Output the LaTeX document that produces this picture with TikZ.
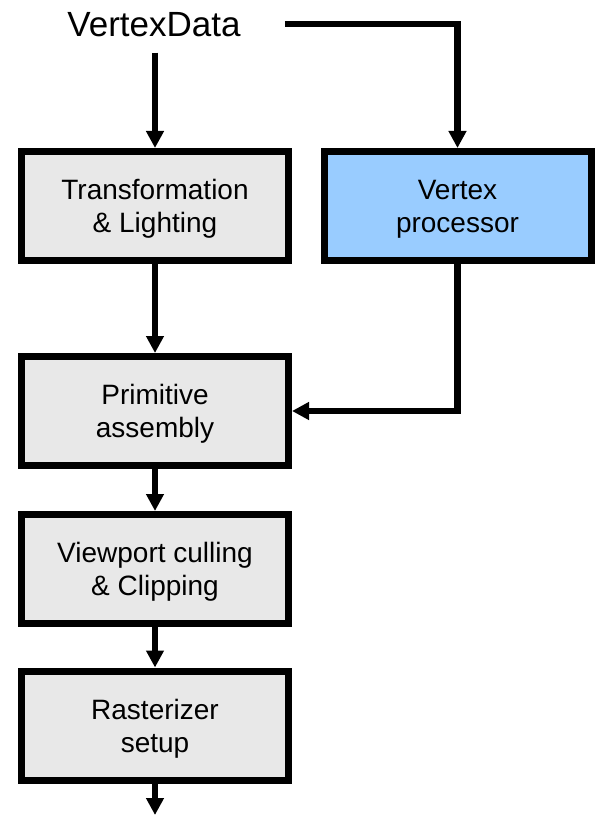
\documentclass[tikz,border=0pt]{standalone}
\usepackage{fontspec}
\setmainfont{Liberation Sans}
\usetikzlibrary{arrows.meta}
\definecolor{boxgray}{HTML}{E8E8E8}
\definecolor{vpblue}{HTML}{99CCFF}
\begin{document}
\begin{tikzpicture}[x=1bp,y=-1bp,
 stage/.style={draw=black, line width=7bp, fill=boxgray, minimum width=267bp, minimum height=109bp, inner sep=0pt, align=center, font=\fontsize{28bp}{33bp}\selectfont, text depth=0pt},
 flow/.style={line width=6.5bp, -{Triangle[length=17bp,width=17bp]}, line join=miter},
 title/.style={font=\fontsize{35bp}{40bp}\selectfont, inner sep=0pt}
]
\useasboundingbox (0,0) rectangle (599,816);
\node[title, anchor=base] (vd) at (154,37) {VertexData};
\node[stage] (tl) at (155,206) {Transformation\\ \& Lighting};
\node[stage, fill=vpblue] (vp) at (457.5,206) {Vertex\\ processor};
\node[stage] (pa) at (155,411) {Primitive\\ assembly};
\node[stage] (vc) at (155,569) {Viewport culling\\ \& Clipping};
\node[stage] (rs) at (155,725.5) {Rasterizer\\ setup};
\coordinate (out) at (155,815);
\draw[flow, shorten <=15bp] (vd.south -| tl.north) -- (tl.north);
\draw[flow, shorten <=44bp] ([yshift=1.3bp]vd.east) -| (vp.north);
\draw[flow] (tl.south) -- (pa.north);
\draw[flow] (vp.south) |- (pa.east);
\draw[flow] (pa.south) -- (vc.north);
\draw[flow] (vc.south) -- (rs.north);
\draw[flow] (rs.south) -- (out);
\end{tikzpicture}
\end{document}
